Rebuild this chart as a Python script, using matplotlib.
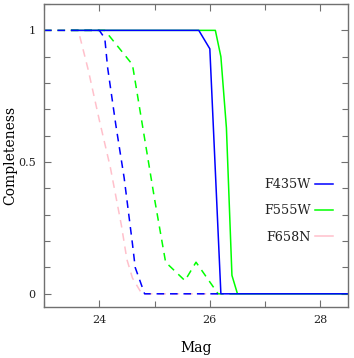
import matplotlib
matplotlib.use("Agg")
import matplotlib.pyplot as plt
from matplotlib.ticker import MultipleLocator
from matplotlib.lines import Line2D

plt.rcParams['font.family'] = ['DejaVu Serif']

# Solid curves
f435_solid_mag = [23.5, 25.8, 26.0, 26.2, 28.5]
f435_solid_val = [1.0, 1.0, 0.93, 0.0, 0.0]
f555_solid_mag = [23.5, 26.1, 26.2, 26.3, 26.4, 26.5, 28.5]
f555_solid_val = [1.0, 1.0, 0.9, 0.63, 0.07, 0.0, 0.0]

# Dashed curves
f435_dash_mag = [23.0, 24.0, 24.1, 24.15, 24.3, 24.45, 24.6, 24.65, 24.82, 26.2]
f435_dash_val = [1.0, 1.0, 0.97, 0.86, 0.64, 0.44, 0.19, 0.10, 0.0, 0.0]
f555_dash_mag = [23.0, 24.1, 24.6, 25.0, 25.2, 25.55, 25.75, 26.15, 26.5]
f555_dash_val = [1.0, 1.0, 0.87, 0.36, 0.12, 0.05, 0.12, 0.0, 0.0]
f658_dash_mag = [23.0, 23.62, 23.8, 24.0, 24.2, 24.4, 24.5, 24.6, 24.77, 26.2]
f658_dash_val = [1.0, 1.0, 0.85, 0.66, 0.48, 0.26, 0.13, 0.06, 0.0, 0.0]

legend_labels = ['F435W', 'F555W', 'F658N']
colors = ['#0000ff', '#00ff00', '#ffc0cb']

fig = plt.figure(figsize=(3.54, 3.58), dpi=100)
ax = fig.add_axes([0.1243, 0.1425, 0.9831 - 0.1243, 0.9888 - 0.1425])

dash = (0, (5.0, 3.8))
lw = 1.1
ax.plot(f658_dash_mag, f658_dash_val, color=colors[2], lw=lw, linestyle=dash)
ax.plot(f555_dash_mag, f555_dash_val, color=colors[1], lw=lw, linestyle=dash)
ax.plot(f435_dash_mag, f435_dash_val, color=colors[0], lw=lw, linestyle=dash)
ax.plot(f555_solid_mag, f555_solid_val, color=colors[1], lw=lw)
ax.plot(f435_solid_mag, f435_solid_val, color=colors[0], lw=lw)

ax.set_xlim(23.0, 28.5)
ax.set_ylim(-0.05, 1.1)
ax.xaxis.set_minor_locator(MultipleLocator(1))
ax.yaxis.set_minor_locator(MultipleLocator(0.1))
ax.set_yticks([0, 0.5, 1])
ax.set_yticklabels(['0', '0.5', '1'])
ax.set_xticks([24, 26, 28])
ax.set_xticklabels(['24', '26', '28'])

spine_col = '#707070'
for s in ax.spines.values():
    s.set_color(spine_col)
    s.set_linewidth(1.0)
ax.tick_params(which='both', direction='in', top=True, right=True, color=spine_col,
               labelsize=8, labelcolor='#222222')
ax.tick_params(which='major', length=5, width=0.8)
ax.tick_params(axis='x', which='major', pad=6)
ax.tick_params(axis='y', which='major', pad=6)
ax.tick_params(which='minor', length=4, width=0.8)

ax.set_xlabel('Mag', fontsize=10, va='center')
ax.set_ylabel('Completeness', fontsize=10, va='center')
ax.xaxis.set_label_coords(0.5, -0.135)
ax.yaxis.set_label_coords(-0.112, 0.5)

handles = [Line2D([0], [0], color=c, lw=lw) for c in colors]
leg = ax.legend(handles, legend_labels, loc='center right', bbox_to_anchor=(1.0, 0.317),
                frameon=False, fontsize=9.2, markerfirst=False, handlelength=1.4,
                handletextpad=0.3, labelspacing=1.05, borderaxespad=0.8)
for t in leg.get_texts():
    t.set_color('#222222')

fig.savefig('out.png', dpi=100)
